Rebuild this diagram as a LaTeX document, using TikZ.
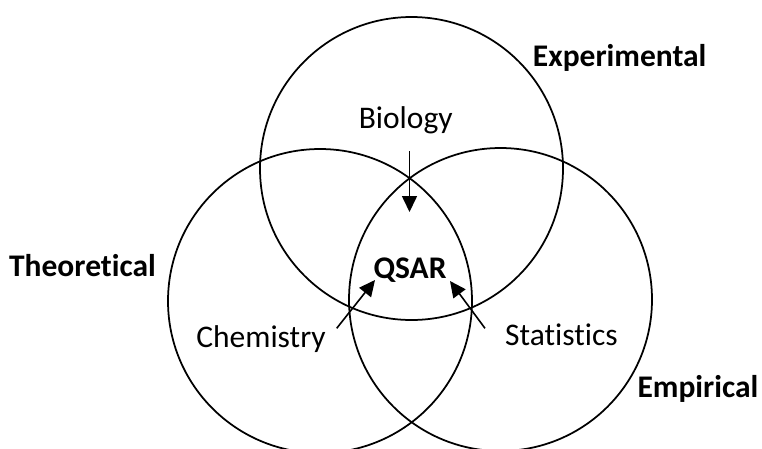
\documentclass[tikz,border=0pt]{standalone}
\usepackage{fontspec}
\setmainfont[Ligatures=NoCommon]{Carlito}
\usetikzlibrary{arrows.meta}
\begin{document}
\begin{tikzpicture}[x=1pt,y=-1pt,
  ring/.style={draw=black,line width=1.75pt},
  lbl/.style={font=\fontsize{31.5}{34}\selectfont,anchor=base,inner sep=0pt},
  blbl/.style={lbl,font=\fontsize{31.5}{34}\selectfont\bfseries},
  arr/.style={line width=1.6pt,-{Triangle[length=16pt,width=15pt]}}]
\useasboundingbox (0,0) rectangle (762,448);
\clip (0,0) rectangle (762,448);
\fill[white] (0,0) rectangle (762,448);
\draw[ring] (411.5,168.5) circle[radius=151.5];
\draw[ring] (320,301) circle[radius=152];
\draw[ring] (500.5,299.5) circle[radius=151.5];
\node[lbl] (bio) at (405.7,128.3) {Biology};
\node[blbl] (qsar) at (410,278.3) {QSAR};
\node[lbl] (chem) at (261,347.5) {Chemistry};
\node[lbl] (stat) at (561.5,345.5) {Statistics};
\node[blbl] (exp) at (619.7,66.7) {Experimental};
\node[blbl] (theo) at (82.5,276.7) {Theoretical};
\node[blbl] (emp) at (698,397.3) {Empirical};
\coordinate (b0) at (409.5,151);
\coordinate (b1) at (409.5,212);
\coordinate (c0) at (336.7,328.3);
\coordinate (c1) at (375,280);
\coordinate (s0) at (485,328.3);
\coordinate (s1) at (450,281);
\draw[arr] (b0) -- (b1);
\draw[arr] (c0) -- (c1);
\draw[arr] (s0) -- (s1);
\end{tikzpicture}
\end{document}
